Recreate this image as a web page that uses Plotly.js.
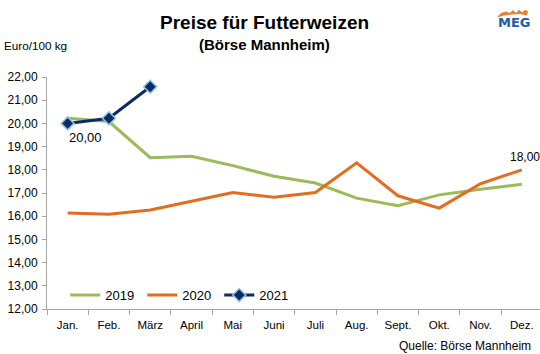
<!DOCTYPE html>
<html>
<head>
<meta charset="utf-8">
<script src="https://cdn.plot.ly/plotly-3.0.1.min.js"></script>
<style>html,body{margin:0;padding:0;background:#fff;}#chart{width:540px;height:354px;}</style>
</head>
<body>
<div id="chart"></div>
<script>
var months = ["Jan.","Feb.","März","April","Mai","Juni","Juli","Aug.","Sept.","Okt.","Nov.","Dez."];
var y2019 = [20.22, 20.08, 18.52, 18.58, 18.18, 17.72, 17.43, 16.78, 16.45, 16.92, 17.16, 17.38];
var y2020 = [16.14, 16.08, 16.27, 16.66, 17.02, 16.82, 17.02, 18.30, 16.88, 16.35, 17.40, 18.00];
var y2021 = [20.00, 20.22, 21.58];
var months2021 = months.slice(0, y2021.length);

var font = "Liberation Sans, Arial, sans-serif";

// plot area geometry in pixels (for placing decorations in paper coords)
var L = 47, T = 77, W = 493, H = 232;
function px(x) { return ((x - L) / W).toFixed(4); }
function py(y) { return ((T + H - y) / H).toFixed(4); }

var crownPts = [[497,17.5],[501,13],[506,11.5],[510,13],[513,10],[516,13],[519,9.5],[522,12.5],[525,10],[528,11],[527,15.5],[520,14],[512,14.5],[504,15.5]];
var crownPath = crownPts.map(function(p, i){ return (i ? "L " : "M ") + px(p[0]) + " " + py(p[1]); }).join(" ") + " Z";

var traces = [
  {x: months, y: y2019, name: "2019", type: "scatter", mode: "lines",
   line: {color: "#9bbb59", width: 3}},
  {x: months, y: y2020, name: "2020", type: "scatter", mode: "lines",
   line: {color: "#e36c1e", width: 3}},
  {x: months2021, y: y2021, name: "2021", type: "scatter", mode: "lines+markers",
   line: {color: "#0e2a63", width: 3},
   marker: {symbol: "diamond", size: 10, color: "#0e2a63", line: {color: "#8ec3ea", width: 1.5}}}
];

var layout = {
  width: 540, height: 354,
  margin: {l: L, r: 540 - L - W, t: T, b: 354 - T - H, pad: 0},
  paper_bgcolor: "#fff", plot_bgcolor: "#fff",
  separators: ",.",
  font: {family: font, size: 11, color: "#000"},
  showlegend: true,
  legend: {orientation: "h", x: 0.037, y: py(295), xanchor: "left", yanchor: "middle",
           font: {family: font, size: 13, color: "#000"}, bgcolor: "rgba(0,0,0,0)",
           traceorder: "normal", entrywidth: 32, entrywidthmode: "pixels", itemsizing: "trace"},
  xaxis: {type: "category", range: [-0.5, 11.44], showgrid: false, zeroline: false,
          showline: true, linecolor: "#a6a6a6", linewidth: 1,
          ticks: "outside", tickson: "boundaries", ticklen: 5, tickcolor: "#a6a6a6",
          ticklabelstandoff: 5,
          tickfont: {family: font, size: 11.5, color: "#000"}, fixedrange: true},
  yaxis: {range: [12, 22], dtick: 1, tickformat: ".2f", showgrid: false, zeroline: false,
          showline: true, linecolor: "#a6a6a6", linewidth: 1,
          ticks: "outside", ticklen: 4, tickcolor: "#a6a6a6", ticklabelstandoff: 2,
          tickfont: {family: font, size: 12, color: "#000"}, fixedrange: true},
  annotations: [
    {xref: "paper", yref: "paper", x: px(264), y: py(23), yanchor: "middle", xanchor: "center",
     text: "<b>Preise für Futterweizen</b>", showarrow: false,
     font: {family: font, size: 19, color: "#000"}},
    {xref: "paper", yref: "paper", x: px(264), y: py(44), yanchor: "middle", xanchor: "center",
     text: "<b>(Börse Mannheim)</b>", showarrow: false,
     font: {family: font, size: 15, color: "#000"}},
    {xref: "paper", yref: "paper", x: px(2), y: py(45), xanchor: "left", yanchor: "middle",
     text: "Euro/100 kg", showarrow: false, font: {family: font, size: 11.7, color: "#000"}},
    {xref: "paper", yref: "paper", x: px(533), y: py(346), xanchor: "right", yanchor: "middle",
     text: "Quelle: Börse Mannheim", showarrow: false, font: {family: font, size: 12, color: "#000"}},
    {xref: "x", yref: "y", x: months2021[0], y: y2021[0], xanchor: "center", yanchor: "top",
     xshift: 18, yshift: -5, text: y2021[0].toFixed(2).replace(".", ","), showarrow: false,
     font: {family: font, size: 13, color: "#000"}},
    {xref: "x", yref: "y", x: months[11], y: y2020[11], xanchor: "center", yanchor: "bottom",
     xshift: 3, yshift: 4, text: y2020[11].toFixed(2).replace(".", ","), showarrow: false,
     font: {family: font, size: 12, color: "#000"}},
    {xref: "paper", yref: "paper", x: px(514.5), y: py(22.5), xanchor: "center", yanchor: "middle",
     text: "<b>MEG</b>", showarrow: false,
     font: {family: "DejaVu Sans, sans-serif", size: 13, color: "#1f5ca8"}}
  ],
  shapes: [
    {type: "path", xref: "paper", yref: "paper", path: crownPath,
     fillcolor: "#e8812c", line: {width: 0}}
  ]
};

Plotly.newPlot("chart", traces, layout, {displayModeBar: false, staticPlot: true});
</script>
</body>
</html>
